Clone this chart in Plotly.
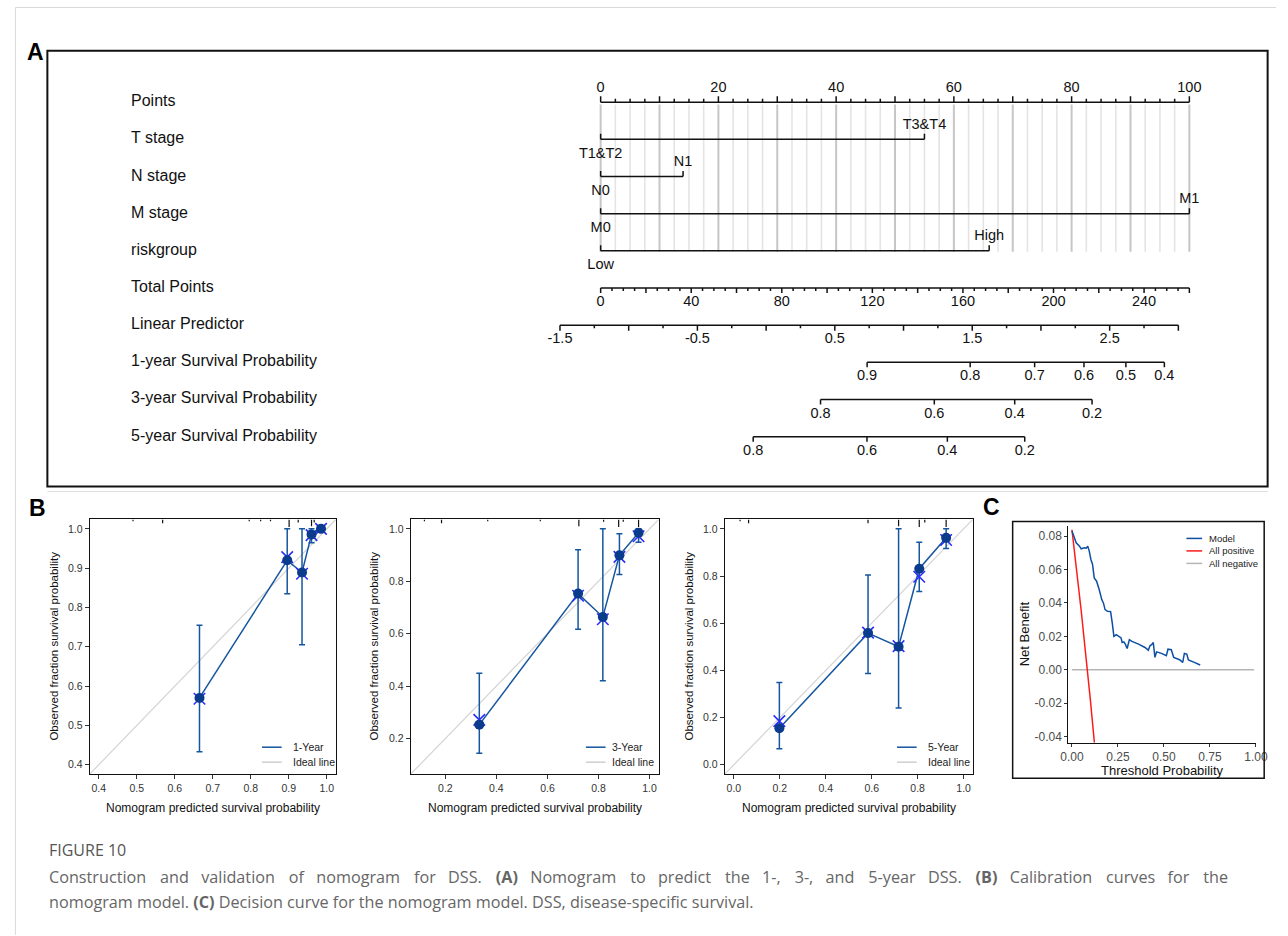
import plotly.graph_objects as go

# ======================= DATA =======================
# ---- Panel A : nomogram ----
row_names = ["Points", "T stage", "N stage", "M stage", "riskgroup", "Total Points",
             "Linear Predictor", "1-year Survival Probability",
             "3-year Survival Probability", "5-year Survival Probability"]
points_tick_labels = [0, 20, 40, 60, 80, 100]
var_low_labels = ["T1&T2", "N0", "M0", "Low"]
var_high_labels = ["T3&T4", "N1", "M1", "High"]
var_high_points = [55, 14, 100, 66]
total_tick_labels = [0, 40, 80, 120, 160, 200, 240]
total_points_max = 260
lp_tick_labels = [-1.5, -0.5, 0.5, 1.5, 2.5]
lp_min, lp_max = -1.5, 3.0
surv1_labels = [0.9, 0.8, 0.7, 0.6, 0.5, 0.4]
surv1_lp = [0.735, 1.485, 1.954, 2.313, 2.618, 2.898]
surv3_labels = [0.8, 0.6, 0.4, 0.2]
surv3_lp = [0.396, 1.224, 1.809, 2.372]
surv5_labels = [0.8, 0.6, 0.4, 0.2]
surv5_lp = [-0.094, 0.734, 1.319, 1.882]

# ---- Panel B : calibration curves ----
cal1_pred = [0.665, 0.896, 0.935, 0.960, 0.985]
cal1_obs = [0.570, 0.920, 0.889, 0.986, 1.000]
cal1_lo = [0.433, 0.835, 0.705, 0.965, 1.000]
cal1_hi = [0.755, 1.000, 1.000, 1.000, 1.000]
cal1_corr = [0.568, 0.928, 0.886, 0.984, 1.000]
cal1_rug_x = [0.490, 0.568, 0.796, 0.826, 0.852, 0.901, 0.925, 0.960, 0.967]
cal1_rug_h = [0.25, 0.5, 0.25, 0.25, 0.25, 1.0, 0.4, 0.9, 0.4]

cal3_pred = [0.333, 0.720, 0.817, 0.882, 0.957]
cal3_obs = [0.253, 0.753, 0.664, 0.899, 0.985]
cal3_lo = [0.144, 0.617, 0.420, 0.826, 0.949]
cal3_hi = [0.449, 0.920, 1.000, 0.981, 1.000]
cal3_corr = [0.271, 0.745, 0.655, 0.893, 0.972]
cal3_rug_x = [0.118, 0.185, 0.366, 0.572, 0.723, 0.820, 0.879, 0.897, 0.957]
cal3_rug_h = [0.25, 0.5, 0.25, 0.25, 0.9, 0.3, 1.0, 0.3, 1.0]

cal5_pred = [0.198, 0.584, 0.717, 0.807, 0.924]
cal5_obs = [0.155, 0.558, 0.500, 0.831, 0.962]
cal5_lo = [0.068, 0.387, 0.241, 0.734, 0.917]
cal5_hi = [0.349, 0.804, 1.000, 0.943, 1.000]
cal5_corr = [0.185, 0.560, 0.503, 0.797, 0.953]
cal5_rug_x = [0.027, 0.064, 0.584, 0.717, 0.807, 0.831, 0.924]
cal5_rug_h = [0.25, 0.5, 0.5, 0.9, 1.0, 0.4, 1.0]

cal_names = ["1-Year", "3-Year", "5-Year"]

# ---- Panel C : decision curve ----
dca_thr = [0.000, 0.014, 0.023, 0.041, 0.050, 0.068, 0.078, 0.086, 0.094, 0.103,
           0.112, 0.121, 0.134, 0.148, 0.162, 0.171, 0.180, 0.193, 0.210, 0.219,
           0.228, 0.241, 0.255, 0.267, 0.273, 0.282, 0.290, 0.300, 0.312, 0.326,
           0.362, 0.397, 0.415, 0.424, 0.433, 0.442, 0.451, 0.460, 0.487, 0.513,
           0.522, 0.540, 0.553, 0.585, 0.602, 0.611, 0.624, 0.633, 0.665, 0.697]
dca_model = [0.0830, 0.0780, 0.0760, 0.0740, 0.0724, 0.0730, 0.0728, 0.0740, 0.0710, 0.0660,
             0.0630, 0.0550, 0.0530, 0.0480, 0.0420, 0.0400, 0.0360, 0.0350, 0.0348, 0.0280,
             0.0200, 0.0210, 0.0200, 0.0190, 0.0163, 0.0167, 0.0153, 0.0127, 0.0180, 0.0170,
             0.0153, 0.0133, 0.0117, 0.0143, 0.0150, 0.0163, 0.0074, 0.0107, 0.0098, 0.0084,
             0.0123, 0.0120, 0.0074, 0.0060, 0.0044, 0.0098, 0.0094, 0.0058, 0.0044, 0.0028]
dca_allpos_thr = [0.0, 0.05, 0.10, 0.13]
dca_allpos_nb = [0.0838, 0.0356, -0.0180, -0.0532]
dca_allneg_thr = [0.0, 0.99]
dca_allneg_nb = [0.0, 0.0]
dca_names = ["Model", "All positive", "All negative"]

# ---- caption ----
caption_title = "FIGURE 10"
caption_line1 = ["Construction", "and", "validation", "of", "nomogram", "for", "DSS.", "<b>(A)</b>",
                 "Nomogram", "to", "predict", "the", "1-,", "3-,", "and", "5-year", "DSS.", "<b>(B)</b>",
                 "Calibration", "curves", "for", "the"]
caption_line2 = "nomogram model. <b>(C)</b> Decision curve for the nomogram model. DSS, disease-specific survival."

# ======================= LAYOUT HELPERS =======================
W, H, OFF = 1288, 936, 0


def PX(x):
    return (x - OFF) / W


def PY(y):
    return 1 - (y - OFF) / H


FONT = "Liberation Sans, Arial, sans-serif"
BLUE = "#15569f"
NAVY = "#0b3b8c"
XBLUE = "rgb(45,45,255)"

fig = go.Figure()


def seg_trace(xs, ys, color, width, xa="x", ya="y"):
    fig.add_trace(go.Scatter(x=xs, y=ys, mode="lines", line=dict(color=color, width=width),
                             xaxis=xa, yaxis=ya, hoverinfo="skip", showlegend=False))


def text_trace(xs, ys, texts, size, pos="middle center", xa="x", ya="y", color="#111"):
    fig.add_trace(go.Scatter(x=xs, y=ys, mode="text", text=texts, textposition=pos,
                             textfont=dict(family=FONT, size=size, color=color),
                             xaxis=xa, yaxis=ya, hoverinfo="skip", showlegend=False,
                             cliponaxis=False))


# ======================= PANEL A =======================
PT0_PIX, PT_PIX = 602.0, 5.98
LP0, LP100 = -1.204, 4.284
ROW_Y = [102.3 + 37.2 * i for i in range(10)]


def tot2pt(t):
    return t * 100.0 / total_points_max


def lp2pt(v):
    return (v - LP0) * 100.0 / LP100


def pix2pt(p):
    return (p - PT0_PIX) / PT_PIX


# grey reference lines
lx, ly, dx, dy = [], [], [], []
for i in range(41):
    v = i * 2.5
    if i % 4 == 0:
        dx += [v, v, None]; dy += [104.5, 252, None]
    else:
        lx += [v, v, None]; ly += [104.5, 252, None]
seg_trace(lx, ly, "#e4e4e4", 1.6)
seg_trace(dx, dy, "#c6c6c6", 2)

AX = "#111"
# Points axis
r = ROW_Y[0]
xs, ys = [0, 100, None], [r, r, None]
for i in range(41):
    v = i * 2.5
    ln = 6 if i % 4 == 0 else 3.5
    xs += [v, v, None]; ys += [r, r - ln, None]
seg_trace(xs, ys, AX, 1.5)
text_trace(points_tick_labels, [r - 14] * len(points_tick_labels),
           [str(v) for v in points_tick_labels], 14.5)

# variable rows
for k in range(4):
    r = ROW_Y[k + 1]
    hp = var_high_points[k]
    seg_trace([0, hp, None, 0, 0, None, hp, hp], [r, r, None, r, r - 5.5, None, r, r - 5.5], AX, 1.5)
    text_trace([hp], [r - 14], [var_high_labels[k]], 14.5)
    text_trace([0], [r + 15], [var_low_labels[k]], 14.5)

# Total points
r = ROW_Y[5]
xs, ys = [0, tot2pt(total_points_max), None], [r, r, None]
for i in range(total_points_max // 5 + 1):
    t = i * 5
    ln = 5 if t % 20 == 0 else 3
    xs += [tot2pt(t), tot2pt(t), None]; ys += [r, r + ln, None]
seg_trace(xs, ys, AX, 1.5)
text_trace([tot2pt(t) for t in total_tick_labels], [r + 14.5] * len(total_tick_labels),
           [str(t) for t in total_tick_labels], 14.5)

# Linear predictor
r = ROW_Y[6]
xs, ys = [lp2pt(lp_min), lp2pt(lp_max), None], [r, r, None]
n_lp = int(round((lp_max - lp_min) / 0.25))
for i in range(n_lp + 1):
    v = lp_min + i * 0.25
    ln = 5.5 if i % 2 == 0 else 3
    xs += [lp2pt(v), lp2pt(v), None]; ys += [r, r + ln, None]
seg_trace(xs, ys, AX, 1.5)
text_trace([lp2pt(v) for v in lp_tick_labels], [r + 14.5] * len(lp_tick_labels),
           [str(v) for v in lp_tick_labels], 14.5)

# Survival probability axes
for row, labs, lps in [(7, surv1_labels, surv1_lp), (8, surv3_labels, surv3_lp),
                       (9, surv5_labels, surv5_lp)]:
    r = ROW_Y[row]
    pts = [lp2pt(v) for v in lps]
    xs, ys = [pts[0], pts[-1], None], [r, r, None]
    for p in pts:
        xs += [p, p, None]; ys += [r, r + 5, None]
    seg_trace(xs, ys, AX, 1.5)
    text_trace(pts, [r + 14.5] * len(pts), [str(v) for v in labs], 14.5)

# row names
text_trace([pix2pt(125)] * len(row_names), ROW_Y, row_names, 16, pos="middle right")

# ======================= PANEL B =======================
cal_sets = [
    (cal1_pred, cal1_obs, cal1_lo, cal1_hi, cal1_corr, cal1_rug_x, cal1_rug_h),
    (cal3_pred, cal3_obs, cal3_lo, cal3_hi, cal3_corr, cal3_rug_x, cal3_rug_h),
    (cal5_pred, cal5_obs, cal5_lo, cal5_hi, cal5_corr, cal5_rug_x, cal5_rug_h),
]
B_BOX = [(83, 333), (409, 661), (728, 980)]
B_TOP, B_BOT = 520, 775
B_RANGE = [(0.376, 1.024), (0.064, 1.036), (-0.04, 1.04)]
B_TICKS = [[0.4, 0.5, 0.6, 0.7, 0.8, 0.9, 1.0],
           [0.2, 0.4, 0.6, 0.8, 1.0],
           [0.0, 0.2, 0.4, 0.6, 0.8, 1.0]]
B_XTICKS = [[0.4, 0.5, 0.6, 0.7, 0.8, 0.9, 1.0],
            [0.2, 0.4, 0.6, 0.8, 1.0],
            [0.0, 0.2, 0.4, 0.6, 0.8, 1.0]]

layout_axes = {}
for k, (pred, obs, lo, hi, corr, rx, rh) in enumerate(cal_sets):
    xa, ya = "x%d" % (k + 2), "y%d" % (k + 2)
    lo_r, hi_r = B_RANGE[k]
    span = hi_r - lo_r
    # ideal line
    seg_trace([lo_r, hi_r], [lo_r, hi_r], "#d4d4d4", 1.2, xa, ya)
    # rug of predictions
    xs, ys = [], []
    for v, h in zip(rx, rh):
        xs += [v, v, None]; ys += [hi_r, hi_r - h * 0.03 * span, None]
    seg_trace(xs, ys, "#111", 1.2, xa, ya)
    # observed line + error bars
    fig.add_trace(go.Scatter(
        x=pred, y=obs, mode="lines", line=dict(color=BLUE, width=1.5),
        error_y=dict(type="data", symmetric=False,
                     array=[h - o for h, o in zip(hi, obs)],
                     arrayminus=[o - l for o, l in zip(obs, lo)],
                     color=BLUE, thickness=1.5, width=3, visible=True),
        xaxis=xa, yaxis=ya, hoverinfo="skip", showlegend=False))
    # bias-corrected (x)
    fig.add_trace(go.Scatter(x=pred, y=corr, mode="markers",
                             marker=dict(symbol="x-thin", size=11.5, line=dict(width=1.6, color=XBLUE)),
                             xaxis=xa, yaxis=ya, hoverinfo="skip", showlegend=False))
    # observed points
    fig.add_trace(go.Scatter(x=pred, y=obs, mode="markers",
                             marker=dict(symbol="circle", size=10, color=NAVY),
                             xaxis=xa, yaxis=ya, hoverinfo="skip", showlegend=False))
    x0, x1 = B_BOX[k]
    common = dict(showline=True, linecolor="#111", linewidth=1, mirror=True, ticks="outside",
                  ticklen=4, tickwidth=1, tickcolor="#333", showgrid=False, zeroline=False,
                  tickfont=dict(family=FONT, size=10.5, color="#333"))
    layout_axes["xaxis%d" % (k + 2)] = dict(domain=[PX(x0), PX(x1)], range=[lo_r, hi_r],
                                           anchor=ya, tickvals=B_XTICKS[k],
                                           ticktext=["%.1f" % v for v in B_XTICKS[k]], **common)
    layout_axes["yaxis%d" % (k + 2)] = dict(domain=[PY(B_BOT), PY(B_TOP)], range=[lo_r, hi_r],
                                           anchor=xa, tickvals=B_TICKS[k],
                                           ticktext=["%.1f" % v for v in B_TICKS[k]], **common)

# ======================= PANEL C =======================
seg_trace(dca_allneg_thr, dca_allneg_nb, "#b5b5b5", 1.5, "x5", "y5")
seg_trace(dca_allpos_thr, dca_allpos_nb, "#ff1a1a", 1.5, "x5", "y5")
seg_trace(dca_thr, dca_model, "#0c4fa3", 1.5, "x5", "y5")
c_common = dict(showline=True, linecolor="#111", linewidth=1, mirror=False, ticks="outside",
                ticklen=3, tickwidth=1, tickcolor="#333", showgrid=False, zeroline=False,
                tickfont=dict(family=FONT, size=12, color="#4d4d4d"))
layout_axes["xaxis5"] = dict(domain=[PX(1077), PX(1268)], range=[-0.02, 1.002], anchor="y5",
                             tickvals=[0, 0.25, 0.5, 0.75, 1.0],
                             ticktext=["0.00", "0.25", "0.50", "0.75", "1.00"], **c_common)
layout_axes["yaxis5"] = dict(domain=[PY(743.3), PY(527)], range=[-0.0436, 0.0858], anchor="x5",
                             tickvals=[-0.04, -0.02, 0, 0.02, 0.04, 0.06, 0.08],
                             ticktext=["-0.04", "-0.02", "0.00", "0.02", "0.04", "0.06", "0.08"],
                             **c_common)

# ======================= SHAPES & ANNOTATIONS =======================
shapes = []
ann = []


def pline(x0, y0, x1, y1, color, width):
    shapes.append(dict(type="line", xref="paper", yref="paper", x0=PX(x0), y0=PY(y0),
                       x1=PX(x1), y1=PY(y1), line=dict(color=color, width=width)))


def ptext(x, y, text, size, xanchor="center", color="#111", angle=0, family=FONT):
    ann.append(dict(xref="paper", yref="paper", x=PX(x), y=PY(y), text=text, showarrow=False,
                    xanchor=xanchor, yanchor="middle", textangle=angle,
                    font=dict(family=family, size=size, color=color)))


# page frame
pline(7.5, 7.5, 1288, 7.5, "#d9d9d9", 1)
pline(7.5, 7.5, 7.5, 936, "#d9d9d9", 1)
pline(40, 492, 1280, 492, "#dedede", 1)
# panel A box
shapes.append(dict(type="rect", xref="paper", yref="paper", x0=PX(40), y0=PY(487), x1=PX(1279.5),
                   y1=PY(50.7), line=dict(color="#111", width=2)))
# panel C box
shapes.append(dict(type="rect", xref="paper", yref="paper", x0=PX(1020.5), y0=PY(779), x1=PX(1276),
                   y1=PY(522), line=dict(color="#111", width=1.5)))

# panel letters
ptext(28, 52.5, "<b>A</b>", 23, color="#000")
ptext(30, 508.5, "<b>B</b>", 23, color="#000")
ptext(999, 507.5, "<b>C</b>", 23, color="#000")

# panel B titles and legends
B_LEG = [(258, 287), (587, 612), (903, 932)]
B_YT = [47, 372, 692]
for k in range(3):
    x0, x1 = B_BOX[k]
    ptext((x0 + x1) / 2, 809, "Nomogram predicted survival probability", 12)
    ptext(B_YT[k], 647, "Observed fraction survival probability", 11.5, angle=-90)
    lx0, tx = B_LEG[k]
    pline(lx0, 748, lx0 + 20, 748, BLUE, 1.5)
    pline(lx0, 763, lx0 + 20, 763, "#cfcfcf", 1.5)
    ptext(tx, 748, cal_names[k], 10.5, xanchor="left", color="#222")
    ptext(tx, 763, "Ideal line", 10.5, xanchor="left", color="#222")

# panel C titles and legend
ptext(1172.5, 771.5, "Threshold Probability", 13)
ptext(1032, 634, "Net Benefit", 13, angle=-90)
for i, (nm, col) in enumerate(zip(dca_names, ["#0c4fa3", "#ff1a1a", "#b5b5b5"])):
    yy = 539 + 12.5 * i
    pline(1197, yy, 1213, yy, col, 1.5)
    ptext(1218, yy, nm, 9.5, xanchor="left", color="#222")

# caption (first line justified by widened word gaps)
CAP = "Open Sans, Liberation Sans, sans-serif"
ptext(40, 851, caption_title, 16, xanchor="left", color="#555", family=CAP)
line1 = caption_line1[0]
for i, w in enumerate(caption_line1[1:]):
    line1 += (" \u2002\u200a" if i % 2 == 0 else " \u2002") + w
ptext(40, 878, line1, 16.2, xanchor="left", color="#666", family=CAP)
ptext(40, 903, caption_line2, 16.2, xanchor="left", color="#666", family=CAP)

fig.update_layout(
    width=W, height=H, margin=dict(l=0, r=0, t=0, b=0), autosize=False,
    paper_bgcolor="white", plot_bgcolor="rgba(0,0,0,0)", showlegend=False,
    xaxis=dict(domain=[PX(40), PX(1280)], range=[pix2pt(40), pix2pt(1280)], visible=False,
               anchor="y"),
    yaxis=dict(domain=[PY(487), PY(50.7)], range=[487, 50.7], visible=False, anchor="x"),
    shapes=shapes, annotations=ann, **layout_axes)

fig.write_html("out.html", config={"displayModeBar": False},
               post_script="document.body.style.margin='0';document.body.style.overflow='hidden';")
